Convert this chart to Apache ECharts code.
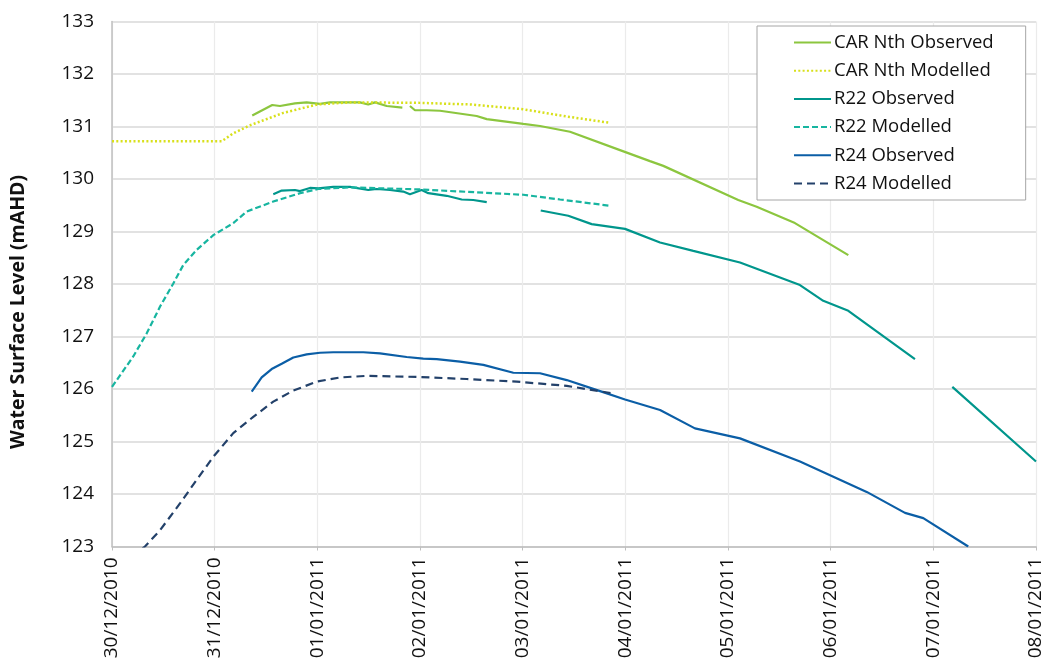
<!DOCTYPE html>
<html>
<head>
<meta charset="utf-8">
<script src="https://cdn.jsdelivr.net/npm/echarts@6/dist/echarts.min.js"></script>
<style>
html,body{margin:0;padding:0;background:#fff;}
#chart{width:1050px;height:667px;}
</style>
</head>
<body>
<div id="chart"></div>
<script>
// x values are days since 30/12/2010 00:00
const tickLabels = ['30/12/2010','31/12/2010','01/01/2011','02/01/2011','03/01/2011','04/01/2011','05/01/2011','06/01/2011','07/01/2011','08/01/2011'];

const carObsX = [1.366,1.561,1.636,1.782,1.896,2.026,2.123,2.415,2.496,2.562,2.676,2.828,null,2.902,2.951,3.065,3.195,3.552,3.650,4.006,4.169,4.461,4.948,5.240,5.370,6.100,6.279,6.652,7.172];
const carObsY = [131.21,131.41,131.39,131.44,131.46,131.43,131.46,131.46,131.42,131.46,131.39,131.36,null,131.39,131.31,131.31,131.30,131.20,131.14,131.05,131.01,130.90,130.55,130.34,130.25,129.60,129.47,129.16,128.55];

const carModX = [0,1.07,1.181,1.34,1.67,2.0,2.32,3.0,3.49,4.0,4.43,4.85];
const carModY = [130.72,130.72,130.87,131.02,131.26,131.42,131.46,131.45,131.42,131.33,131.19,131.07];

const r22ObsX = [1.571,1.653,1.782,1.831,1.928,2.009,2.155,2.318,2.496,2.578,2.708,2.837,2.902,3.016,3.081,3.260,3.406,3.519,3.650,null,4.176,4.444,4.672,4.997,5.338,5.662,6.117,6.701,6.928,7.172,7.821,null,8.185,9.0];
const r22ObsY = [129.71,129.78,129.79,129.77,129.83,129.82,129.85,129.85,129.79,129.81,129.79,129.76,129.71,129.79,129.73,129.68,129.61,129.60,129.56,null,129.40,129.30,129.14,129.05,128.79,128.63,128.41,127.98,127.68,127.49,126.57,null,126.04,124.62];

const r22ModX = [0,0.207,0.338,0.468,0.597,0.694,0.825,0.987,1.181,1.312,1.571,1.831,2.009,2.318,3.016,4.006,4.364,4.850];
const r22ModY = [126.04,126.62,127.06,127.57,128.01,128.36,128.65,128.93,129.16,129.38,129.57,129.73,129.81,129.84,129.80,129.70,129.61,129.49];

const r24ObsX = [1.361,1.458,1.555,1.653,1.766,1.896,2.026,2.155,2.448,2.610,2.870,3.032,3.163,3.390,3.617,3.909,4.169,4.429,4.754,4.997,5.338,5.678,6.117,6.701,7.351,7.724,7.902,8.340];
const r24ObsY = [125.95,126.22,126.38,126.48,126.60,126.66,126.69,126.70,126.70,126.68,126.61,126.58,126.57,126.52,126.46,126.31,126.30,126.17,125.96,125.80,125.60,125.25,125.06,124.62,124.04,123.64,123.54,123.00];

const r24ModX = [0,0.321,0.468,0.662,0.825,0.987,1.181,1.376,1.571,1.766,1.994,2.221,2.481,2.968,3.455,3.942,4.429,4.867];
const r24ModY = [122.5,123.00,123.31,123.82,124.27,124.71,125.16,125.47,125.76,125.97,126.14,126.22,126.25,126.23,126.19,126.14,126.06,125.92];

const yTicks = [123,124,125,126,127,128,129,130,131,132,133];

function pairs(xs, ys){ return xs.map((x,i)=> x===null ? [null,null] : [x, ys[i]]); }

const FONT = 'Open Sans';
const chart = echarts.init(document.getElementById('chart'), null, {renderer:'canvas'});

function lineSeries(name, xs, ys, color, type, width){
  return {
    name, type:'line', data: pairs(xs, ys), symbol:'none', showSymbol:false,
    connectNulls:false, clip:true, animation:false,
    lineStyle:{color, width, type},
    itemStyle:{color}
  };
}

chart.setOption({
  animation:false,
  textStyle:{fontFamily:FONT},
  grid:{left:112, right:14, top:21.5, bottom:120.5, containLabel:false},
  legend:{
    orient:'vertical', left:757, top:26,
    padding:[7,32,7,36],
    backgroundColor:'#fff', borderColor:'#a6a6a6', borderWidth:1,
    itemWidth:37, itemHeight:16, itemGap:9.2,
    itemStyle:{opacity:0},
    textStyle:{fontFamily:FONT, fontSize:18.5, color:'#111', padding:[0,0,0,-2]},
    data:['CAR Nth Observed','CAR Nth Modelled','R22 Observed','R22 Modelled','R24 Observed','R24 Modelled']
  },
  xAxis:{
    type:'value', min:0, max:9, interval:1,
    axisLine:{show:true, lineStyle:{color:'#bfbfbf', width:1.5}},
    axisTick:{show:true, length:4, lineStyle:{color:'#bfbfbf'}},
    axisLabel:{rotate:90, margin:11, fontFamily:FONT, fontSize:19, color:'#111',
      formatter:(v)=> tickLabels[Math.round(v)] || ''},
    splitLine:{show:true, lineStyle:{color:'#ebebeb', width:1.2}}
  },
  yAxis:{
    type:'value', min:yTicks[0], max:yTicks[yTicks.length-1], interval:1,
    name:'Water Surface Level (mAHD)', nameLocation:'middle', nameGap:84,
    nameTextStyle:{fontFamily:FONT, fontSize:19.5, fontWeight:'bold', color:'#111', padding:[0,56,0,0]},
    axisLine:{show:true, lineStyle:{color:'#bfbfbf', width:1.5}},
    axisTick:{show:false},
    axisLabel:{margin:18, fontFamily:FONT, fontSize:19, color:'#111'},
    splitLine:{show:true, lineStyle:{color:'#d9d9d9', width:1.6}}
  },
  series:[
    lineSeries('CAR Nth Observed', carObsX, carObsY, '#8cc63f', 'solid', 2.2),
    lineSeries('CAR Nth Modelled', carModX, carModY, '#d8e01b', [2,2.3], 2.5),
    lineSeries('R22 Observed', r22ObsX, r22ObsY, '#00968c', 'solid', 2.2),
    lineSeries('R22 Modelled', r22ModX, r22ModY, '#17b5a0', [6,3], 2.2),
    lineSeries('R24 Observed', r24ObsX, r24ObsY, '#0b5ea6', 'solid', 2.2),
    lineSeries('R24 Modelled', r24ModX, r24ModY, '#23416a', [8,5], 2.2)
  ]
});
</script>
</body>
</html>
